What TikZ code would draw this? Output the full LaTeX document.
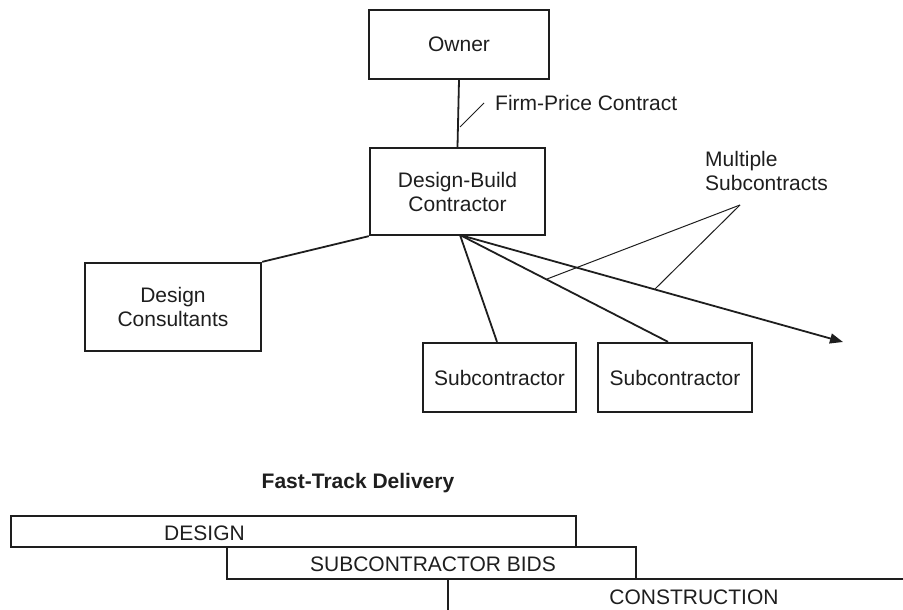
\documentclass[tikz,border=0pt]{standalone}
\usepackage{fontspec}
\setmainfont{Liberation Sans}
\usetikzlibrary{arrows.meta,calc}
\definecolor{ink}{HTML}{1E1E1E}
\begin{document}
\begin{tikzpicture}[x=1pt,y=-1pt,
  every node/.style={text=ink,font=\fontsize{21}{24}\selectfont},
  orgbox/.style={draw=ink,line width=2.3pt,inner sep=0pt,align=center},
  bar/.style={draw=ink,line width=2.3pt,inner sep=0pt},
  link/.style={draw=ink,line width=1.8pt},
  leader/.style={draw=ink,line width=1pt},
  caption/.style={inner sep=0pt,align=left}]
\useasboundingbox (0,0) rectangle (903,610);

% organisation chart
\node[orgbox,minimum width=180pt,minimum height=69pt] (owner) at (459,44.5) {Owner};
\node[orgbox,minimum width=175pt,minimum height=87pt] (db) at (457.5,191.5) {Design-Build\\Contractor};
\node[orgbox,minimum width=176pt,minimum height=88pt] (dc) at (173,307) {Design\\Consultants};
\node[orgbox,minimum width=153pt,minimum height=69pt] (sub1) at (499.5,377.5) {Subcontractor};
\node[orgbox,minimum width=154pt,minimum height=69pt] (sub2) at (675,377.5) {Subcontractor};

\coordinate (apex) at (460,235);
\coordinate (open) at (843,342);

\draw[link] (owner.south) -- (db.north);
\draw[link] (dc.north east) -- (db.south west);
\draw[link] (apex) -- ($(sub1.north)+(-2.5,0)$);
\draw[link] (apex) -- ($(sub2.north)+(-7,0)$);
\draw[link,-{Triangle[length=13pt,width=10pt]}] (apex) -- (open);

% labels and their leader lines
\node[caption,anchor=west] (fpc) at (495,103) {Firm-Price Contract};
\coordinate (fpcfoot) at (460,127);
\draw[leader] (fpcfoot) -- (484,103);

\node[caption,anchor=north west] (msc) at (705,151) {Multiple\\Subcontracts};
\coordinate (mscroot) at (740,205);
\draw[leader] (mscroot) -- (547,279);
\draw[leader] (mscroot) -- (655,289);

% fast-track schedule
\node[inner sep=0pt,font=\bfseries\fontsize{21}{24}\selectfont] (ft) at (358,483) {Fast-Track Delivery};

\node[bar,minimum width=565pt,minimum height=31pt] (design) at (293.5,531.5) {};
\node[inner sep=0pt] (designtxt) at (204.5,533) {DESIGN};

\node[bar,minimum width=409pt,minimum height=32pt] (bids) at (431.5,563) {};
\node[inner sep=0pt] (bidstxt) at (433,564) {SUBCONTRACTOR BIDS};

\draw[bar] (448,612) -- (448,579) -- (905,579);
\node[inner sep=0pt] (constr) at (694,597) {CONSTRUCTION};
\end{tikzpicture}
\end{document}
